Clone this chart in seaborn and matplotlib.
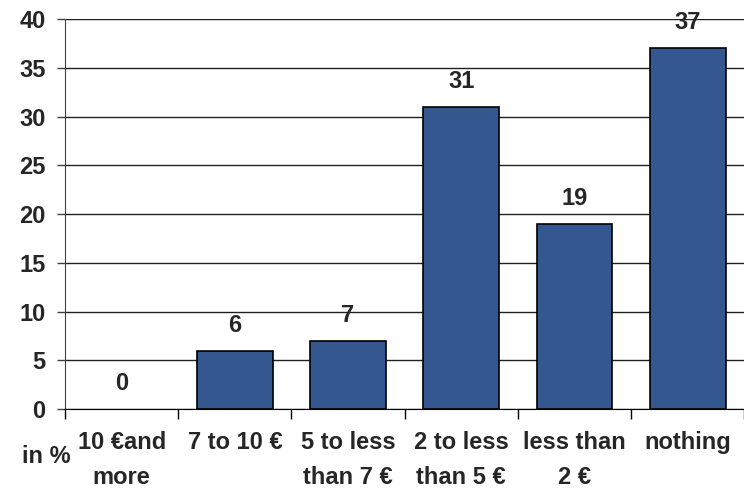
import matplotlib
matplotlib.use("Agg")
import matplotlib.pyplot as plt
import seaborn as sns
import pandas as pd
import numpy as np

# -----------------------------
# Data
# -----------------------------
categories = [
    "10 \u20acand\nmore",
    "7 to 10 \u20ac",
    "5 to less\nthan 7 \u20ac",
    "2 to less\nthan 5 \u20ac",
    "less than\n2 \u20ac",
    "nothing",
]
values = [0, 6, 7, 31, 19, 37]
y_ticks = [0, 5, 10, 15, 20, 25, 30, 35, 40]

df = pd.DataFrame({"category": categories, "value": values})

# -----------------------------
# Style
# -----------------------------
sns.set_style("white")
plt.rcParams["font.family"] = ["Liberation Sans", "DejaVu Sans"]
plt.rcParams["font.weight"] = "bold"
fs = 17

fig = plt.figure(figsize=(7.44, 4.90), dpi=100)
ax = fig.add_axes([0.0874, 0.1653, 0.913, 0.7959])

sns.barplot(
    data=df,
    x="category",
    y="value",
    color="#34578F",
    saturation=1,
    edgecolor="black",
    linewidth=1.2,
    width=0.67,
    ax=ax,
    zorder=3,
)

# a zero bar shows no outline in the original
for patch in ax.patches:
    if patch.get_height() == 0:
        patch.set_linewidth(0)

ax.bar_label(ax.containers[0], padding=10, fontsize=fs, fontweight="bold")

# -----------------------------
# Axes
# -----------------------------
ax.set_ylim(0, 40)
ax.set_xlim(-0.5, len(categories) - 0.5)
ax.set_yticks(y_ticks)
ax.yaxis.grid(True, color="#202020", linewidth=1, zorder=0)
ax.set_axisbelow(True)

ax.set_xlabel("")
ax.set_ylabel("")

for side in ["top", "right"]:
    ax.spines[side].set_visible(False)
ax.spines["left"].set_color("#404040")
ax.spines["bottom"].set_color("black")

ax.tick_params(axis="y", direction="out", length=6, width=1, pad=8,
               labelsize=fs, left=True, color="#404040")

# labels at category centers, tick marks at the boundaries
ax.set_xticks(np.arange(len(categories)))
ax.set_xticklabels(categories, fontsize=fs, fontweight="bold")
ax.set_xticks(np.arange(len(categories) + 1) - 0.5, minor=True)
ax.tick_params(axis="x", which="major", length=0, pad=16)
ax.tick_params(axis="x", which="minor", direction="out", length=7,
               width=1, bottom=True, color="black")
for lbl in ax.get_xticklabels():
    lbl.set_linespacing(1.68)
    lbl.set_verticalalignment("top")

fig.text(0.062, 0.068, "in %", fontsize=fs, fontweight="bold",
         ha="center", va="center")

fig.savefig("out.png", dpi=100)
plt.close(fig)
